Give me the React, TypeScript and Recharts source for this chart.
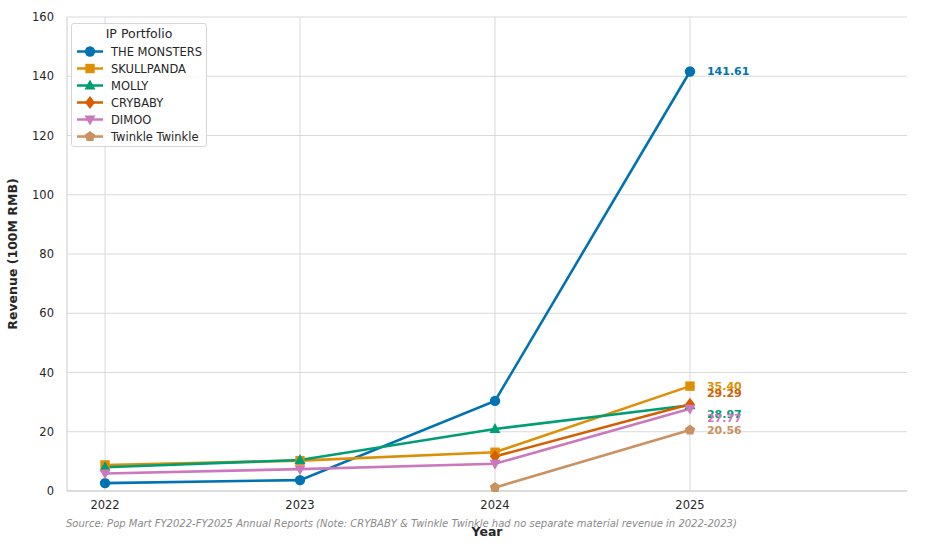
import React from 'react'
import { LineChart, Line, XAxis, YAxis, CartesianGrid, LabelList } from 'recharts'

const years = [2022, 2023, 2024, 2025]
const yTicks = [0, 20, 40, 60, 80, 100, 120, 140, 160]
const xDomain = [2021.805, 2026.113]

const theMonsters = [2.66, 3.68, 30.41, 141.61]
const skullpanda = [8.8, 10.26, 13.08, 35.4]
const molly = [8.0, 10.46, 20.93, 28.97]
const crybaby = [null, null, 11.65, 29.29]
const dimoo = [5.9, 7.38, 9.2, 27.77]
const twinkle = [null, null, 1.2, 20.56]

const seriesNames = ['THE MONSTERS', 'SKULLPANDA', 'MOLLY', 'CRYBABY', 'DIMOO', 'Twinkle Twinkle']

type Shape = 'circle' | 'square' | 'triUp' | 'diamond' | 'triDown' | 'pentagon'

const series: { key: string; name: string; values: (number | null)[]; color: string; shape: Shape; labelDy: number }[] = [
  { key: 'monsters', name: seriesNames[0], values: theMonsters, color: '#0173b2', shape: 'circle', labelDy: 0 },
  { key: 'skullpanda', name: seriesNames[1], values: skullpanda, color: '#de8f05', shape: 'square', labelDy: 0 },
  { key: 'molly', name: seriesNames[2], values: molly, color: '#029e73', shape: 'triUp', labelDy: 9 },
  { key: 'crybaby', name: seriesNames[3], values: crybaby, color: '#d55e00', shape: 'diamond', labelDy: -11 },
  { key: 'dimoo', name: seriesNames[4], values: dimoo, color: '#cc78bc', shape: 'triDown', labelDy: 10 },
  { key: 'twinkle', name: seriesNames[5], values: twinkle, color: '#ca9161', shape: 'pentagon', labelDy: 0 },
]

const chartData = years.map((year, i) => {
  const row: Record<string, number | null> = { year }
  series.forEach((s) => {
    row[s.key] = s.values[i]
  })
  return row
})

const FONT = '"DejaVu Sans", sans-serif'

function Marker({ shape, cx, cy, color }: { shape: Shape; cx: number; cy: number; color: string }) {
  switch (shape) {
    case 'circle':
      return <circle cx={cx} cy={cy} r={5.2} fill={color} />
    case 'square':
      return <rect x={cx - 4.7} y={cy - 4.7} width={9.4} height={9.4} fill={color} />
    case 'triUp':
      return <polygon points={`${cx},${cy - 6} ${cx - 5.5},${cy + 4} ${cx + 5.5},${cy + 4}`} fill={color} />
    case 'triDown':
      return <polygon points={`${cx},${cy + 6} ${cx - 5.5},${cy - 4} ${cx + 5.5},${cy - 4}`} fill={color} />
    case 'diamond':
      return <polygon points={`${cx},${cy - 6.5} ${cx + 5},${cy} ${cx},${cy + 6.5} ${cx - 5},${cy}`} fill={color} />
    case 'pentagon': {
      const pts = [0, 1, 2, 3, 4]
        .map((k) => {
          const a = -Math.PI / 2 + (k * 2 * Math.PI) / 5
          return `${cx + 5.5 * Math.cos(a)},${cy + 5.5 * Math.sin(a)}`
        })
        .join(' ')
      return <polygon points={pts} fill={color} />
    }
  }
  return null
}

const LegendBox = () => (
  <div
    style={{
      position: 'absolute',
      left: 71,
      top: 23,
      width: 136,
      height: 124,
      boxSizing: 'border-box',
      border: '1px solid #d6d6d6',
      borderRadius: 3,
      background: 'rgba(255,255,255,0.85)',
      fontFamily: FONT,
      color: '#262626',
    }}
  >
    <div style={{ textAlign: 'center', fontSize: 12.5, lineHeight: '14px', marginTop: 3, marginBottom: 2 }}>IP Portfolio</div>
    {series.map((s) => (
      <div key={s.key} style={{ display: 'flex', alignItems: 'center', height: 17 }}>
        <svg width={34} height={17} style={{ marginLeft: 3, flex: 'none' }}>
          <line x1={2} y1={8.5} x2={28} y2={8.5} stroke={s.color} strokeWidth={2.5} />
          <Marker shape={s.shape} cx={15} cy={8.5} color={s.color} />
        </svg>
        <span style={{ fontSize: 11.5, marginLeft: 2 }}>{s.name}</span>
      </div>
    ))}
  </div>
)

// vertical grid lines only at the year ticks, not at the plot edges
const yearGrid = (props: any) => {
  const scale = props?.xAxis?.scale
  if (typeof scale === 'function') {
    const pts = years.map((y) => scale(y))
    if (pts.every((v) => Number.isFinite(v))) return pts
  }
  const off = props?.offset
  return years.map((y) => off.left + ((y - xDomain[0]) / (xDomain[1] - xDomain[0])) * off.width)
}

export default function App() {
  return (
    <div style={{ position: 'absolute', left: 0, top: 0, width: 926, height: 547, background: '#fff', fontFamily: FONT }}>
      <LineChart width={926} height={547} data={chartData} margin={{ top: 17, right: 19, left: 17, bottom: 26 }}>
        <CartesianGrid stroke="#d9d9d9" strokeWidth={1} verticalCoordinatesGenerator={yearGrid} />
        <XAxis
          type="number"
          dataKey="year"
          domain={xDomain}
          ticks={years}
          allowDecimals={false}
          height={30}
          tickLine={false}
          tickSize={0}
          tickMargin={10}
          axisLine={{ stroke: '#cccccc' }}
          tick={{ fill: '#262626', fontSize: 11.5, fontFamily: FONT }}
        />
        <YAxis
          domain={[0, 160]}
          ticks={yTicks}
          width={50}
          tickLine={false}
          tickSize={0}
          tickMargin={13}
          axisLine={{ stroke: '#cccccc' }}
          tick={{ fill: '#262626', fontSize: 11.5, fontFamily: FONT }}
        />
        {series.map((s) => (
          <Line
            key={s.key}
            dataKey={s.key}
            name={s.name}
            stroke={s.color}
            strokeWidth={2.6}
            isAnimationActive={false}
            connectNulls={false}
            activeDot={false}
            dot={(p: any) =>
              p.value == null || p.cy == null ? (
                <g key={`${s.key}-${p.index}`} />
              ) : (
                <Marker key={`${s.key}-${p.index}`} shape={s.shape} cx={p.cx} cy={p.cy} color={s.color} />
              )
            }
          >
            <LabelList
              dataKey={s.key}
              content={(p: any) =>
                p.index === years.length - 1 && p.value != null ? (
                  <text
                    x={p.x + 17}
                    y={p.y + s.labelDy}
                    dominantBaseline="central"
                    fill={s.color}
                    fontSize={11}
                    fontWeight="bold"
                    fontFamily={FONT}
                  >
                    {Number(p.value).toFixed(2)}
                  </text>
                ) : null
              }
            />
          </Line>
        ))}
      </LineChart>
      <LegendBox />
      <div
        style={{
          position: 'absolute',
          left: 12,
          top: 254,
          transform: 'translate(-50%, -50%) rotate(-90deg)',
          fontSize: 12.5,
          fontWeight: 'bold',
          color: '#262626',
          whiteSpace: 'nowrap',
        }}
      >
        Revenue (100M RMB)
      </div>
      <div
        style={{
          position: 'absolute',
          left: 487,
          top: 531,
          transform: 'translate(-50%, -50%)',
          fontSize: 12.5,
          fontWeight: 'bold',
          color: '#262626',
        }}
      >
        Year
      </div>
      <div
        style={{
          position: 'absolute',
          left: 66,
          top: 523,
          transform: 'translateY(-50%)',
          fontSize: 10,
          fontStyle: 'italic',
          color: '#8a8a8a',
          whiteSpace: 'nowrap',
        }}
      >
        Source: Pop Mart FY2022-FY2025 Annual Reports (Note: CRYBABY &amp; Twinkle Twinkle had no separate material revenue in 2022-2023)
      </div>
    </div>
  )
}
